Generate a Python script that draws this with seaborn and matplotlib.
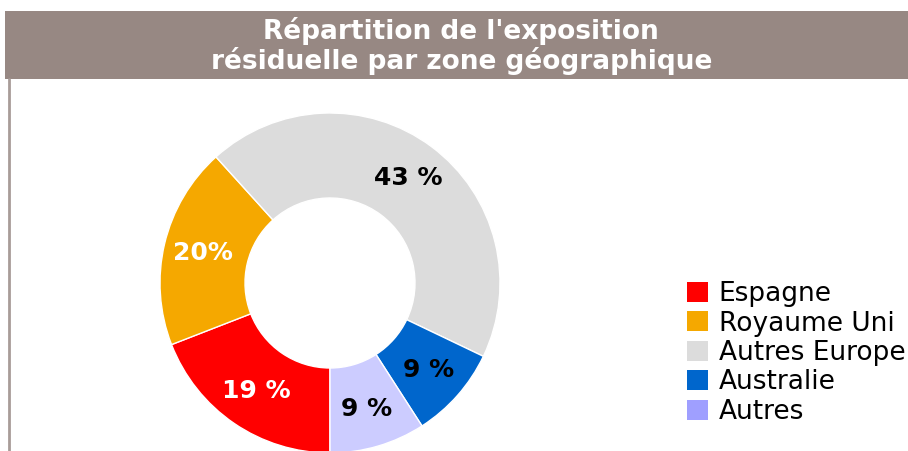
import matplotlib
matplotlib.use("Agg")
import matplotlib.pyplot as plt
from matplotlib.patches import Rectangle
from matplotlib.lines import Line2D
import seaborn as sns

# data
zones = ["Espagne", "Royaume Uni", "Autres Europe", "Australie", "Autres"]
shares = [19.1, 19.2, 43.8, 8.8, 9.1]
pct_labels = ["19 %", "20%", "43 %", "9 %", "9 %"]
slice_colors = ["#ff0000", "#f5a800", "#dcdcdc", "#0066cc", "#ccccff"]
legend_colors = ["#ff0000", "#f5a800", "#dcdcdc", "#0066cc", "#9f9fff"]
label_colors = ["white", "white", "black", "black", "black"]

sns.set_style("white")
plt.rcParams["font.family"] = ["DejaVu Sans"]

fig = plt.figure(figsize=(9.08, 4.51), dpi=100)

# title band
fig.patches.append(Rectangle((5 / 908, 1 - 79 / 451), 1, 68 / 451,
                             transform=fig.transFigure, facecolor="#978883",
                             edgecolor="none", zorder=0))
fig.text(0.508, 1 - 46 / 451, "Répartition de l'exposition\nrésiduelle par zone géographique",
         ha="center", va="center", color="white", fontsize=19, fontweight="bold",
         linespacing=1.12)
# left border
fig.add_artist(Line2D([9 / 908, 9 / 908], [0, 1 - 79 / 451], transform=fig.transFigure,
                      color="#a89c98", linewidth=2))

cx, cy, r = 330, 283, 170
ax = fig.add_axes([(cx - r) / 908, (451 - cy - r) / 451, 2 * r / 908, 2 * r / 451])
wedges, texts = ax.pie(shares, colors=slice_colors, startangle=270, counterclock=False,
                       radius=1, labels=pct_labels, labeldistance=0.77,
                       wedgeprops=dict(width=0.5, edgecolor="white", linewidth=1),
                       textprops=dict(fontsize=18, fontweight="bold"))
for t, c in zip(texts, label_colors):
    t.set_color(c)
    t.set_ha("center")
    t.set_va("center")
ax.set_xlim(-1, 1)
ax.set_ylim(-1, 1)
ax.set_aspect("equal")
ax.axis("off")

handles = [Rectangle((0, 0), 1, 1, facecolor=c, edgecolor="none") for c in legend_colors]
fig.legend(handles, zones, loc="center left", bbox_to_anchor=(687 / 908, 1 - 353 / 451),
           frameon=False, fontsize=19, handlelength=0.8, handleheight=0.8,
           handletextpad=0.4, labelspacing=0.13, borderpad=0, borderaxespad=0,
           labelcolor="black")

fig.savefig("out.png", dpi=100)
